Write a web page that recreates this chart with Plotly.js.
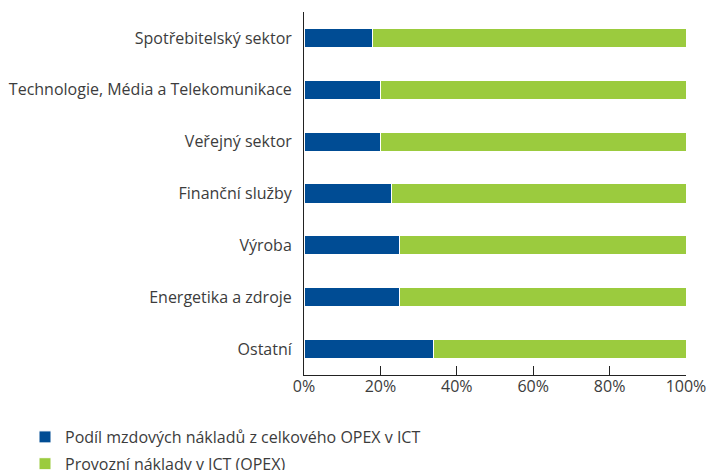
<!DOCTYPE html>
<html>
<head>
<meta charset="utf-8">
<script src="https://cdn.plot.ly/plotly-3.0.1.min.js"></script>
<style>html,body{margin:0;padding:0;background:#fff;}#chart{width:709px;height:470px;}</style>
</head>
<body>
<div id="chart"></div>
<script>
const categories = ["Spotřebitelský sektor","Technologie, Média a Telekomunikace","Veřejný sektor","Finanční služby","Výroba","Energetika a zdroje","Ostatní"];
const wageShare = [18, 20, 20, 23, 25, 25, 34];
const opexRest = [82, 80, 80, 77, 75, 75, 66];
const seriesNames = ["Podíl mzdových nákladů z celkového OPEX v ICT","Provozní náklady v ICT (OPEX)"];
const tickVals = [0, 20, 40, 60, 80, 100];
const tickText = ["0%","20%","40%","60%","80%","100%"];

const font = {family: "Open Sans, sans-serif", size: 16, color: "#3c3c3c"};
const traces = [
  {type:"bar", orientation:"h", y:categories, x:wageShare, name:seriesNames[0], legendgroup:"a",
   marker:{color:"#004C94", line:{color:"#ffffff", width:1}}, hoverinfo:"x+y"},
  {type:"bar", orientation:"h", y:categories, x:opexRest, name:seriesNames[1], legendgroup:"b",
   marker:{color:"#9BCB3E", line:{color:"#ffffff", width:1}}, hoverinfo:"x+y"}
];
const L = 304, R = 23, T = 12, B = 95, W = 709, H = 470;
const pw = W - L - R, ph = H - T - B;
const layout = {
  width:W, height:H, barmode:"stack", bargap:0.63,
  margin:{l:L, r:R, t:T, b:B, autoexpand:false},
  paper_bgcolor:"#fff", plot_bgcolor:"#fff", font:font,
  xaxis:{range:[0,100], tickvals:tickVals, ticktext:tickText, showgrid:false, zeroline:false,
    showline:true, linecolor:"#222", linewidth:1, ticks:"inside", ticklen:9, tickcolor:"#222",
    ticklabelstandoff:-3, tickfont:font, fixedrange:true, automargin:false},
  yaxis:{autorange:"reversed", showgrid:false, zeroline:false, showline:true, linecolor:"#222", linewidth:1,
    ticks:"", ticklabelstandoff:8, tickfont:font, fixedrange:true, automargin:false},
  showlegend:true,
  legend:{xref:"paper", yref:"paper", x:(25 - L)/pw, y:-(420 - (H - B))/ph, xanchor:"left", yanchor:"top",
    traceorder:"grouped", tracegroupgap:3, font:font, bgcolor:"rgba(0,0,0,0)"}
};
Plotly.newPlot("chart", traces, layout, {displayModeBar:false, staticPlot:true});
</script>
</body>
</html>
